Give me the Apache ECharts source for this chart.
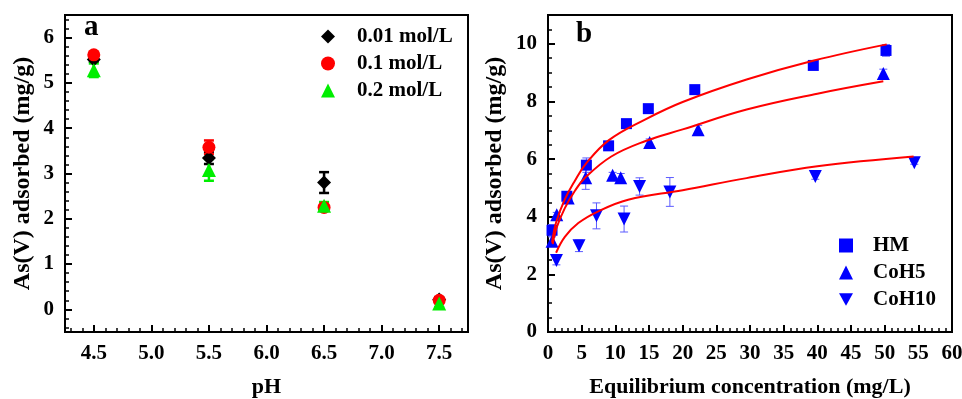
<!DOCTYPE html>
<html>
<head>
<meta charset="utf-8">
<script src="https://cdn.jsdelivr.net/npm/echarts@6/dist/echarts.min.js"></script>
<style>html,body{margin:0;padding:0;background:#fff;}#c{width:962px;height:399px;}</style>
</head>
<body>
<div id="c"></div>
<script>
// ---------- Panel a data ----------
const pH = [4.5, 5.5, 6.5, 7.5];
const c001 = [5.52, 3.34, 2.80, 0.22];
const c001Err = [0.05, 0.13, 0.23, 0.05];
const c01 = [5.62, 3.58, 2.25, 0.20];
const c01Err = [0.05, 0.15, 0.05, 0.05];
const c02 = [5.28, 3.08, 2.29, 0.13];
const c02Err = [0.15, 0.24, 0.08, 0.08];
const namesA = ['0.01 mol/L', '0.1 mol/L', '0.2 mol/L'];

// ---------- Panel b data ----------
const hmX = [0.6, 2.8, 5.7, 9.0, 11.65, 14.9, 21.8, 39.4, 50.2];
const hmY = [3.53, 4.71, 5.79, 6.46, 7.23, 7.75, 8.41, 9.25, 9.77];
const hmErr = [0.2, 0.08, 0.25, 0.08, 0.08, 0.08, 0.08, 0.08, 0.2];
const co5X = [0.6, 1.3, 3.0, 5.6, 9.6, 10.8, 15.1, 22.3, 49.8];
const co5Y = [3.15, 4.07, 4.65, 5.35, 5.44, 5.35, 6.58, 7.02, 8.97];
const co5Err = [0.15, 0.08, 0.08, 0.4, 0.1, 0.15, 0.12, 0.15, 0.15];
const co10X = [1.25, 4.6, 7.2, 11.3, 13.6, 18.1, 39.7, 54.4];
const co10Y = [2.48, 2.99, 4.03, 3.92, 5.05, 4.86, 5.40, 5.87];
const co10Err = [0.15, 0.2, 0.45, 0.45, 0.3, 0.5, 0.1, 0.05];
const namesB = ['HM', 'CoH5', 'CoH10'];

// fitted curves
const fitHmX = [0.6, 1.2, 2.5, 4.0, 5.5, 9.0, 14.4, 20.0, 29.5, 39.5, 50.3];
const fitHmY = [3.1, 3.8, 4.6, 5.25, 5.8, 6.65, 7.37, 7.98, 8.76, 9.42, 9.98];
const fitCo5X = [0.7, 1.25, 2.5, 4.0, 5.5, 9.4, 14.4, 20.0, 29.5, 40.0, 49.8];
const fitCo5Y = [3.05, 3.6, 4.3, 4.9, 5.35, 6.09, 6.62, 7.03, 7.72, 8.27, 8.70];
const fitCo10X = [1.2, 2.5, 4.5, 7.4, 11.9, 20.0, 29.5, 40.0, 54.3];
const fitCo10Y = [2.75, 3.3, 3.78, 4.18, 4.59, 4.92, 5.34, 5.75, 6.09];

const FONT = 'Liberation Serif';
const zip = (xs, ys) => xs.map((x, i) => [x, ys[i]]);
const errData = (xs, ys, es) => xs.map((x, i) => [x, ys[i] - es[i], ys[i] + es[i]]);

function errRender(capW, lw, color) {
  return function (params, api) {
    const x = api.value(0), lo = api.value(1), hi = api.value(2);
    const a = api.coord([x, lo]), b = api.coord([x, hi]);
    const style = { stroke: color, lineWidth: lw, fill: null };
    return {
      type: 'group',
      children: [
        { type: 'line', shape: { x1: a[0], y1: a[1], x2: b[0], y2: b[1] }, style },
        { type: 'line', shape: { x1: a[0] - capW / 2, y1: a[1], x2: a[0] + capW / 2, y2: a[1] }, style },
        { type: 'line', shape: { x1: b[0] - capW / 2, y1: b[1], x2: b[0] + capW / 2, y2: b[1] }, style }
      ]
    };
  };
}
function errSeries(data, xi, color, capW, lw) {
  return {
    type: 'custom', xAxisIndex: xi, yAxisIndex: xi, data: data,
    encode: { x: 0, y: [1, 2] }, renderItem: errRender(capW, lw, color),
    silent: true, z: 2
  };
}

const labelStyle = { fontFamily: FONT, fontWeight: 'bold', fontSize: 21, color: '#000' };
const nameStyleX = { fontFamily: FONT, fontWeight: 'bold', fontSize: 22, color: '#000' };
const nameStyleY = { fontFamily: FONT, fontWeight: 'bold', fontSize: 24, color: '#000' };
const axLine = { show: true, onZero: false, lineStyle: { color: '#000', width: 2 } };
const tick = { show: true, inside: true, length: 7, lineStyle: { color: '#000', width: 2 } };
const minor = (n) => ({ show: true, splitNumber: n, length: 4, lineStyle: { color: '#000', width: 1.5 } });

const downTri = 'path://M0,0 L10,0 L5,9 Z';

const option = {
  animation: false,
  backgroundColor: '#fff',
  grid: [
    { left: 65, top: 15, width: 403, height: 317, show: true, borderColor: '#000', borderWidth: 2, outerBoundsMode: 'none', containLabel: false },
    { left: 548, top: 15, width: 404, height: 317, show: true, borderColor: '#000', borderWidth: 2, outerBoundsMode: 'none', containLabel: false }
  ],
  xAxis: [
    {
      gridIndex: 0, type: 'value', min: 4.25, max: 7.75, splitNumber: 7,
      axisLine: axLine, axisTick: tick, minorTick: minor(5), splitLine: { show: false },
      axisLabel: Object.assign({ margin: 11, formatter: v => (Math.abs(v * 2 - Math.round(v * 2)) < 1e-6 ? v.toFixed(1) : '') }, labelStyle),
      name: 'pH', nameLocation: 'middle', nameGap: 44, nameTextStyle: nameStyleX
    },
    {
      gridIndex: 1, type: 'value', min: 0, max: 60, interval: 5,
      axisLine: axLine, axisTick: tick, minorTick: minor(5), splitLine: { show: false },
      axisLabel: Object.assign({ margin: 11 }, labelStyle),
      name: 'Equilibrium concentration (mg/L)', nameLocation: 'middle', nameGap: 44, nameTextStyle: nameStyleX
    }
  ],
  yAxis: [
    {
      gridIndex: 0, type: 'value', min: -0.5, max: 6.5, splitNumber: 7,
      axisLine: axLine, axisTick: tick, minorTick: minor(5), splitLine: { show: false },
      axisLabel: Object.assign({ margin: 11, formatter: v => (Math.abs(v - Math.round(v)) < 1e-6 ? String(Math.round(v)) : '') }, labelStyle),
      name: 'As(V) adsorbed (mg/g)', nameLocation: 'middle', nameGap: 30, nameRotate: 90, nameTextStyle: nameStyleY
    },
    {
      gridIndex: 1, type: 'value', min: 0, max: 11, interval: 2,
      axisLine: axLine, axisTick: tick, minorTick: minor(4), splitLine: { show: false },
      axisLabel: Object.assign({ margin: 11, formatter: v => (v <= 10 ? String(v) : '') }, labelStyle),
      name: 'As(V) adsorbed (mg/g)', nameLocation: 'middle', nameGap: 41, nameRotate: 90, nameTextStyle: nameStyleY
    }
  ],
  legend: [
    {
      data: namesA, orient: 'vertical', left: 316, top: 21, itemWidth: 14, itemHeight: 14, itemGap: 6,
      textStyle: { fontFamily: FONT, fontWeight: 'bold', fontSize: 21, color: '#000', padding: [0, 0, 0, 17] }
    },
    {
      data: namesB, orient: 'vertical', left: 834, top: 230, itemWidth: 14, itemHeight: 14, itemGap: 6,
      textStyle: { fontFamily: FONT, fontWeight: 'bold', fontSize: 21, color: '#000', padding: [0, 0, 0, 15] }
    }
  ],
  graphic: [
    { type: 'text', left: 84, top: 13, style: { text: 'a', font: 'bold 29px "Liberation Serif"', fill: '#000' } },
    { type: 'text', left: 576, top: 20, style: { text: 'b', font: 'bold 29px "Liberation Serif"', fill: '#000' } }
  ],
  series: [
    // panel a
    errSeries(errData(pH, c001, c001Err), 0, '#000', 10, 2.5),
    { name: namesA[0], type: 'scatter', xAxisIndex: 0, yAxisIndex: 0, data: zip(pH, c001), symbol: 'diamond', symbolSize: 14, itemStyle: { color: '#000', opacity: 1 }, z: 3 },
    errSeries(errData(pH, c01, c01Err), 0, '#ff0000', 10, 2.5),
    { name: namesA[1], type: 'scatter', xAxisIndex: 0, yAxisIndex: 0, data: zip(pH, c01), symbol: 'circle', symbolSize: 13, itemStyle: { color: '#ff0000', opacity: 1 }, z: 4 },
    errSeries(errData(pH, c02, c02Err), 0, '#00ee00', 10, 2.5),
    { name: namesA[2], type: 'scatter', xAxisIndex: 0, yAxisIndex: 0, data: zip(pH, c02), symbol: 'triangle', symbolSize: 14, itemStyle: { color: '#00ee00', opacity: 1 }, z: 5 },
    // panel b error bars
    errSeries(errData(hmX, hmY, hmErr), 1, '#5b5bff', 8, 1),
    errSeries(errData(co5X, co5Y, co5Err), 1, '#5b5bff', 8, 1),
    errSeries(errData(co10X, co10Y, co10Err), 1, '#5b5bff', 8, 1),
    { name: namesB[0], type: 'scatter', xAxisIndex: 1, yAxisIndex: 1, data: zip(hmX, hmY), symbol: 'rect', symbolSize: 11, itemStyle: { color: '#0000ff', opacity: 1 }, z: 3 },
    { name: namesB[1], type: 'scatter', xAxisIndex: 1, yAxisIndex: 1, data: zip(co5X, co5Y), symbol: 'triangle', symbolSize: 13, itemStyle: { color: '#0000ff', opacity: 1 }, z: 3 },
    { name: namesB[2], type: 'scatter', xAxisIndex: 1, yAxisIndex: 1, data: zip(co10X, co10Y), symbol: downTri, symbolSize: 13, itemStyle: { color: '#0000ff', opacity: 1 }, z: 3 },
    // fitted curves
    { type: 'line', xAxisIndex: 1, yAxisIndex: 1, data: zip(fitHmX, fitHmY), smooth: 0.4, showSymbol: false, symbol: 'none', lineStyle: { color: '#ff0000', width: 2 }, z: 6, silent: true },
    { type: 'line', xAxisIndex: 1, yAxisIndex: 1, data: zip(fitCo5X, fitCo5Y), smooth: 0.4, showSymbol: false, symbol: 'none', lineStyle: { color: '#ff0000', width: 2 }, z: 6, silent: true },
    { type: 'line', xAxisIndex: 1, yAxisIndex: 1, data: zip(fitCo10X, fitCo10Y), smooth: 0.4, showSymbol: false, symbol: 'none', lineStyle: { color: '#ff0000', width: 2 }, z: 6, silent: true }
  ]
};
echarts.init(document.getElementById('c'), null, { renderer: 'canvas' }).setOption(option);
</script>
</body>
</html>
